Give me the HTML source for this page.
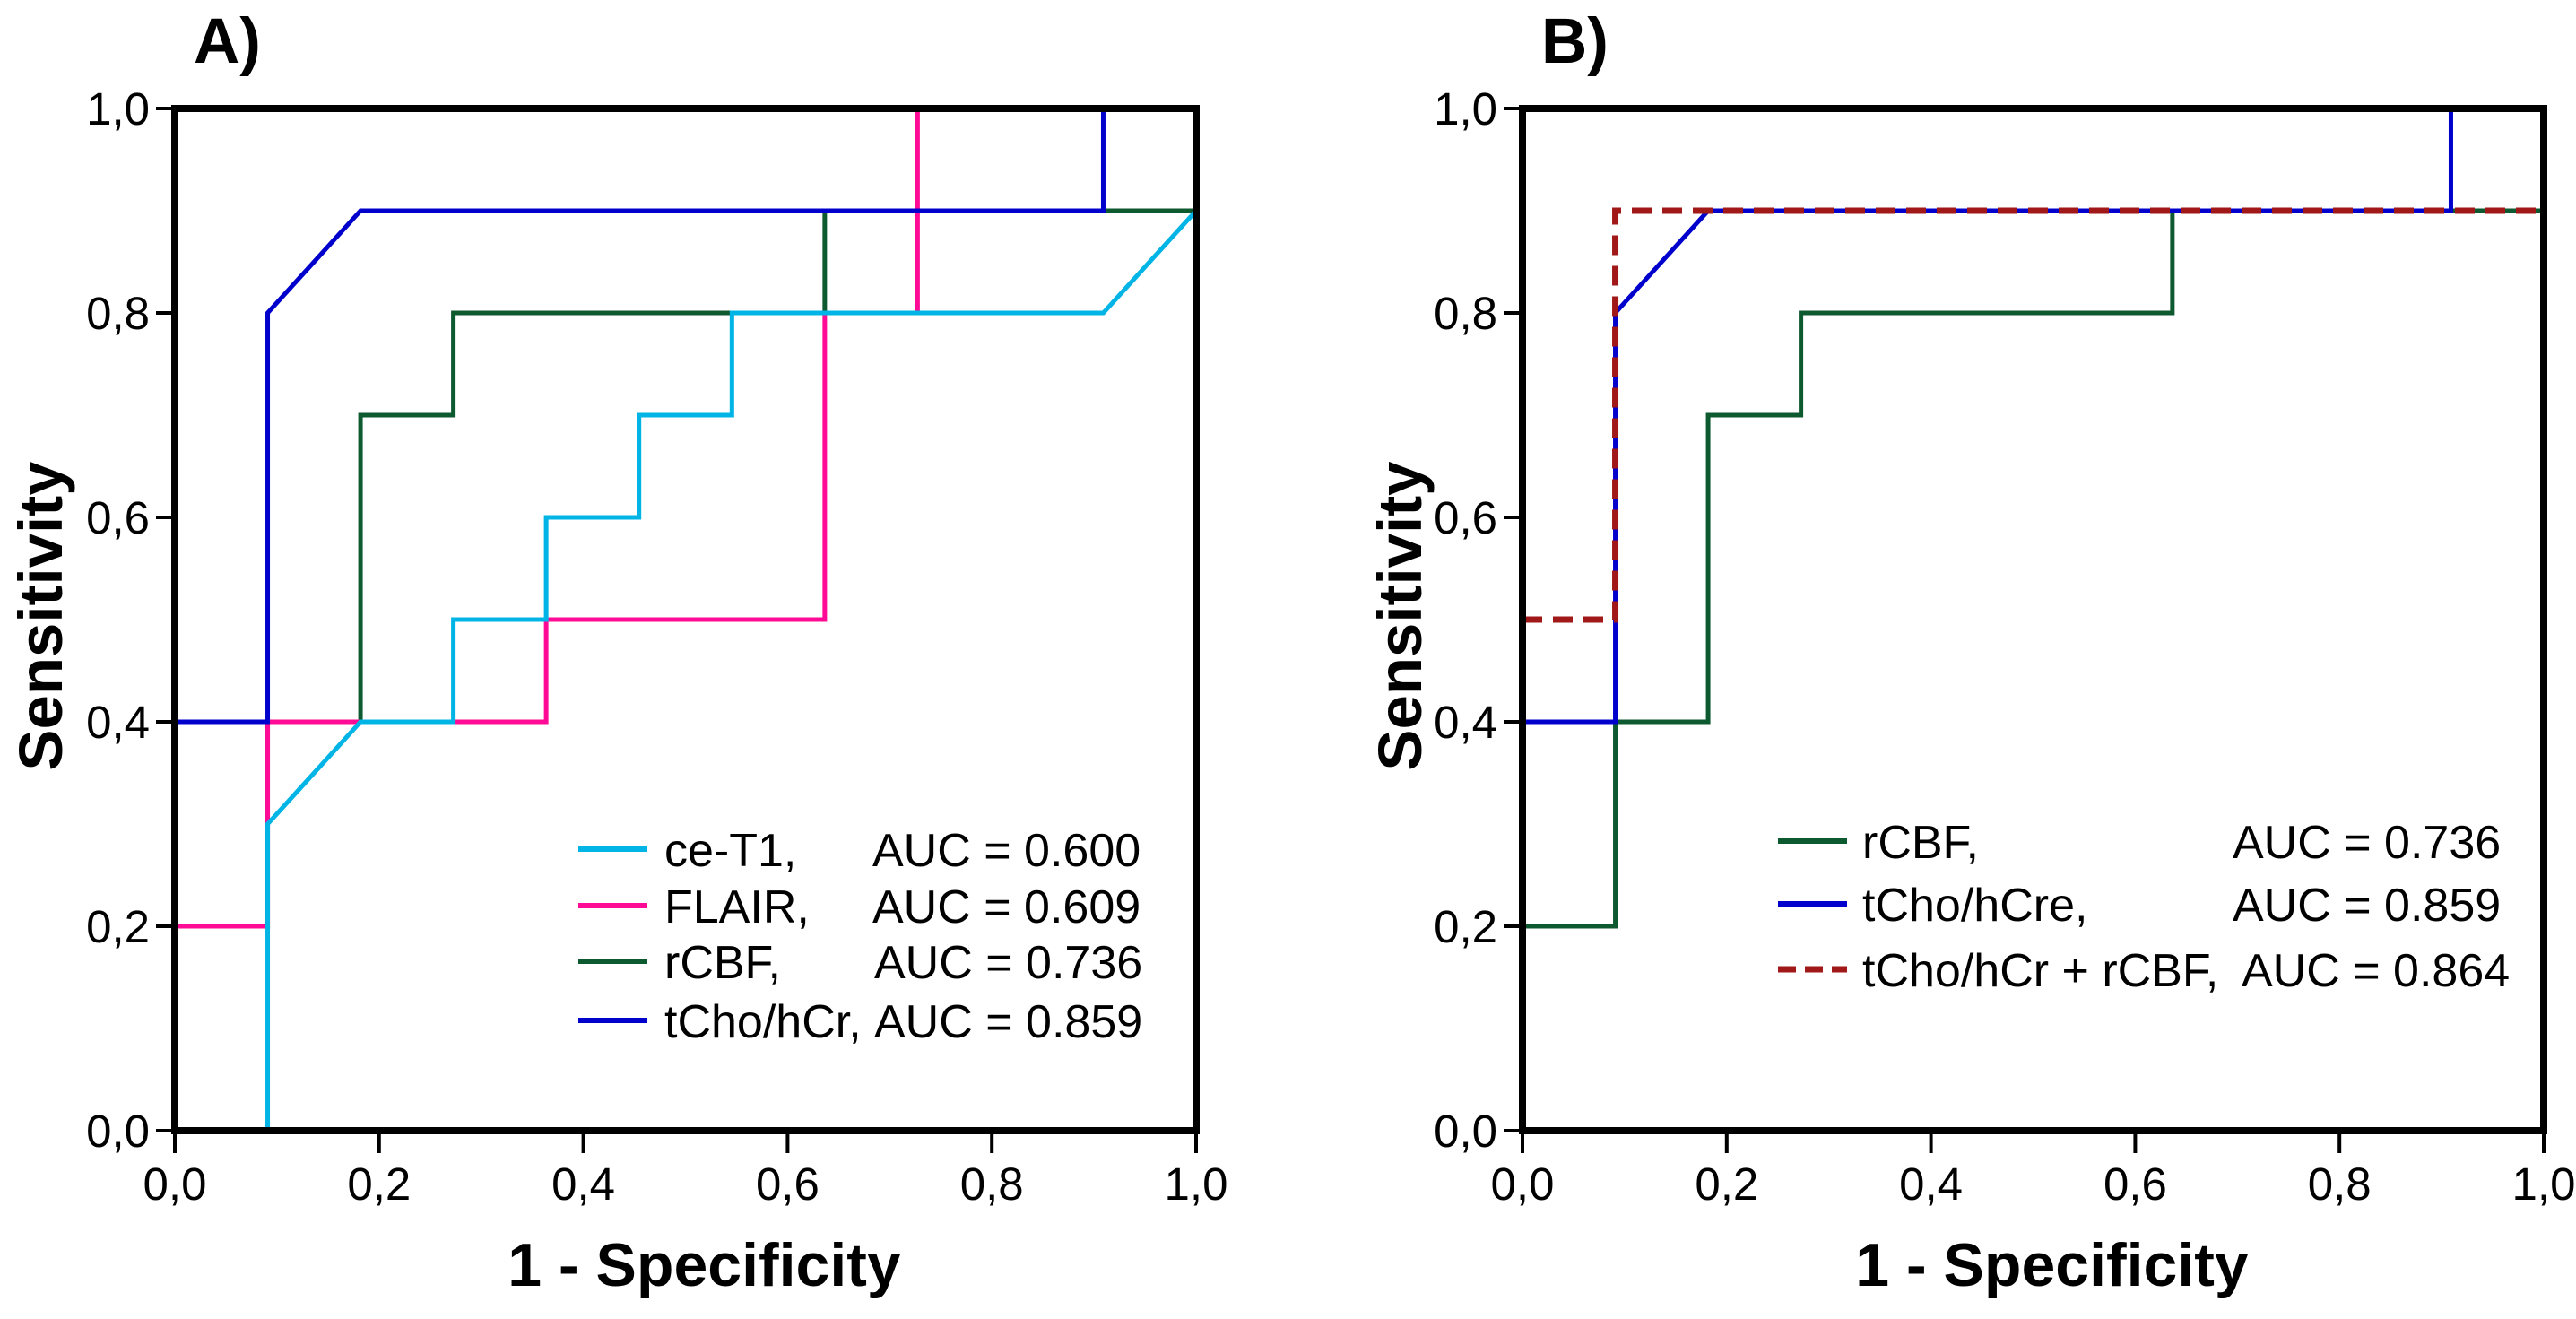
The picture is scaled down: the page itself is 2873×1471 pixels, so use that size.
<!DOCTYPE html>
<html><head><meta charset="utf-8"><style>
html,body{margin:0;padding:0;background:#fff;}
svg{display:block;font-family:"Liberation Sans",Arial,sans-serif;}
</style></head><body>
<svg id="fig" width="2873" height="1471" viewBox="0 0 2873 1471" xmlns="http://www.w3.org/2000/svg"></svg>
<script>
const tickValues = [0, 0.2, 0.4, 0.6, 0.8, 1.0];
const tickLabels = ["0,0", "0,2", "0,4", "0,6", "0,8", "1,0"];
// Panel A series (x = 1 - specificity, y = sensitivity)
const aCeT1X = [0.0909, 0.0909, 0.1818, 0.2727, 0.2727, 0.3636, 0.3636, 0.4545, 0.4545, 0.5455, 0.5455, 0.9091, 1.0];
const aCeT1Y = [0, 0.3, 0.4, 0.4, 0.5, 0.5, 0.6, 0.6, 0.7, 0.7, 0.8, 0.8, 0.9];
const aFlairX = [0, 0.0909, 0.0909, 0.3636, 0.3636, 0.6364, 0.6364, 0.7273, 0.7273];
const aFlairY = [0.2, 0.2, 0.4, 0.4, 0.5, 0.5, 0.8, 0.8, 1.0];
const rcbfX = [0, 0.0909, 0.0909, 0.1818, 0.1818, 0.2727, 0.2727, 0.6364, 0.6364, 1.0];
const rcbfY = [0.2, 0.2, 0.4, 0.4, 0.7, 0.7, 0.8, 0.8, 0.9, 0.9];
const tchoX = [0, 0.0909, 0.0909, 0.1818, 0.9091, 0.9091];
const tchoY = [0.4, 0.4, 0.8, 0.9, 0.9, 1.0];
const combX = [0, 0.0909, 0.0909, 1.0];
const combY = [0.5, 0.5, 0.9, 0.9];
const legendA = [["ce-T1,", "AUC = 0.600"], ["FLAIR,", "AUC = 0.609"], ["rCBF,", "AUC = 0.736"], ["tCho/hCr,", "AUC = 0.859"]];
const legendB = [["rCBF,", "AUC = 0.736"], ["tCho/hCre,", "AUC = 0.859"], ["tCho/hCr + rCBF,", "AUC = 0.864"]];

const NS = "http://www.w3.org/2000/svg";
const svg = document.getElementById("fig");
function mk(tag, attrs, parent, text) {
  const e = document.createElementNS(NS, tag);
  for (const k in attrs) e.setAttribute(k, attrs[k]);
  if (text !== undefined) e.textContent = text;
  (parent || svg).appendChild(e);
  return e;
}
const W = 1139, H = 1140, TOP = 121;
function panel(x0, letter, name, yTitleOff) {
  const g = mk("g", {});
  
  
  const sx = v => x0 + v * W;
  const sy = v => TOP + H - v * H;
  const t = mk("text", {x: x0 + 21, y: 70, "font-size": 71, "font-weight": "bold"}, g, letter + ")");
  
  
  tickValues.forEach((v, i) => {
    const tx = mk("line", {x1: sx(v), x2: sx(v), y1: TOP + H, y2: TOP + H + 25, stroke: "#000", "stroke-width": 4}, g);
    
    
    const lx = mk("text", {x: sx(v), y: 1338, "font-size": 51, "text-anchor": "middle"}, g, tickLabels[i]);
    
    
    const ty = mk("line", {x1: x0 - 21, x2: x0, y1: sy(v), y2: sy(v), stroke: "#000", "stroke-width": 4}, g);
    
    
    const ly = mk("text", {x: x0 - 28, y: sy(v) + 18, "font-size": 51, "text-anchor": "end"}, g, tickLabels[i]);
    
    
  });
  const xt = mk("text", {x: x0 + W / 2 + 21, y: 1434, "font-size": 68, "font-weight": "bold", "text-anchor": "middle"}, g, "1 - Specificity");
  
  
  const cx = x0 - yTitleOff, cy = TOP + H / 2 - 4;
  const yt = mk("text", {x: cx, y: cy, "font-size": 69, "font-weight": "bold", "text-anchor": "middle", transform: `rotate(-90 ${cx} ${cy})`}, g, "Sensitivity");
  
  
  return {g, sx, sy};
}
function series(p, xs, ys, color, name, dash) {
  const pts = xs.map((x, i) => p.sx(x) + "," + p.sy(ys[i])).join(" ");
  const a = {points: pts, fill: "none", stroke: color, "stroke-width": 5, "stroke-linejoin": "miter"};
  if (dash) { a["stroke-dasharray"] = "22,12"; a["stroke-width"] = 7; }
  const l = mk("polyline", a, p.g);
  
  
}
function frame(p, x0) {
  const r = mk("rect", {x: x0, y: TOP, width: W, height: H, fill: "none", stroke: "#000", "stroke-width": 8}, p.g);
  
  
}
function legend(p, items, colors, lx0, lx1, tx, ax, ys, dashIdx) {
  const lg = mk("g", {}, p.g);
  
  
  items.forEach((it, i) => {
    const e = mk("g", {}, lg);
    
    
    const la = {x1: lx0, x2: lx1, y1: ys[i], y2: ys[i], stroke: colors[i], "stroke-width": 6};
    if (i === dashIdx) { la["stroke-dasharray"] = "20,10"; la["stroke-width"] = 7; }
    mk("line", la, e);
    mk("text", {x: tx, y: ys[i] + 19, "font-size": 52}, e, it[0]);
    mk("text", {x: ax[i], y: ys[i] + 19, "font-size": 52}, e, it[1]);
  });
}
const CY = "#00b4e6", MG = "#ff0b96", GR = "#0d5a30", BL = "#0000cc", DR = "#a01818";
const pA = panel(195, "A", "panel-a", 126);
series(pA, rcbfX, rcbfY, GR, "rcbf-curve");
series(pA, aFlairX, aFlairY, MG, "flair-curve");
series(pA, aCeT1X, aCeT1Y, CY, "ce-t1-curve");
series(pA, tchoX, tchoY, BL, "tcho-curve");
frame(pA, 195);
legend(pA, legendA, [CY, MG, GR, BL], 645, 722, 741, [973, 973, 975, 975], [947, 1010, 1072, 1138], -1);
const pB = panel(1698, "B", "panel-b", 113);
series(pB, rcbfX, rcbfY, GR, "rcbf-curve");
series(pB, tchoX, tchoY, BL, "tcho-curve");
series(pB, combX, combY, DR, "combined-curve", true);
frame(pB, 1698);
legend(pB, legendB, [GR, BL, DR], 1983, 2060, 2077, [2490, 2490, 2500], [938, 1008, 1081], 2);
</script>
</body></html>
